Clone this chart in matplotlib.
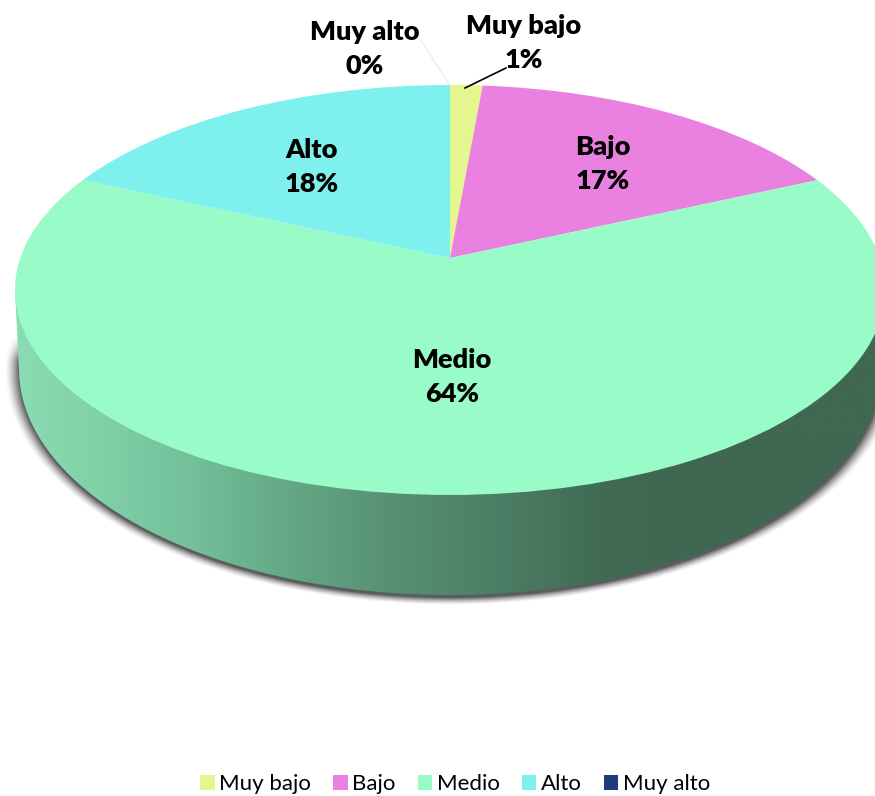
import matplotlib
matplotlib.use("Agg")
import matplotlib.pyplot as plt
import matplotlib.transforms as mtransforms
from matplotlib.colors import LinearSegmentedColormap
from matplotlib.patches import Polygon
import numpy as np

categories = ["Muy bajo", "Bajo", "Medio", "Alto", "Muy alto"]
values = [1.4, 16.8, 63.6, 18.2, 0.0]
colors = ["#E4F68E", "#EA80E0", "#99FBC8", "#7EF1EF", "#1F3B7A"]
label_x = [524, 603, 452, 312, 365]
label_y = [43, 164, 377, 167, 49]

# pie seen from above, all in pixels of the 875x796 picture
CX, CY = 450, 258
A, B, K = 429.7, 200.0, 0.156
WALL_STOPS = [(15, "#8ADCB2"), (100, "#80D0A8"), (200, "#72BE98"), (300, "#62A582"),
              (400, "#568F74"), (500, "#4C7D65"), (600, "#416B55"), (650, "#3F6751"),
              (885, "#3F6751")]


class TiltTransform(mtransforms.Transform):
    input_dims = 2
    output_dims = 2

    def transform_non_affine(self, xy):
        xy = np.asarray(xy, dtype=float)
        w = 1 + K * xy[:, 1]
        return np.column_stack([CX + A * xy[:, 0] / w, CY - B * xy[:, 1] / w])


def draw_shadow(ax):
    xx, yy = np.meshgrid(np.arange(0, 875.0), np.arange(280, 620.0))
    dist = np.sqrt(((xx - 450) / 437) ** 2 + ((yy - 370) / 230) ** 2)
    edge = (1 - dist) * 300
    alpha = np.clip((edge + 6) / 10, 0, 1) ** 1.5 * np.clip((yy - 335) / 25, 0, 1) * 0.85
    rgba = np.zeros(xx.shape + (4,))
    rgba[..., :3] = 0.25
    rgba[..., 3] = alpha
    ax.imshow(rgba, extent=(0, 875, 620, 280), aspect="auto", zorder=1)


def draw_wall(ax):
    t = np.linspace(np.pi, 0, 200)
    low_x = 450 + 431 * np.cos(t)
    low_y = 369 + 226 * np.sin(t)
    points = np.column_stack([
        np.r_[15, low_x, 885],
        np.r_[290, low_y, 290],
    ])
    clip = Polygon(points, closed=True, transform=ax.transData, facecolor="none", edgecolor="none")
    ax.add_patch(clip)

    span = WALL_STOPS[-1][0] - WALL_STOPS[0][0]
    stops = [((x - WALL_STOPS[0][0]) / span, c) for x, c in WALL_STOPS]
    cmap = LinearSegmentedColormap.from_list("wall", stops)
    gradient = np.linspace(0, 1, 512).reshape(1, -1)
    img = ax.imshow(gradient, cmap=cmap, extent=(15, 885, 600, 280), aspect="auto", zorder=2)
    img.set_clip_path(clip)


def main():
    plt.rcParams["font.family"] = ["Lato", "DejaVu Sans"]
    fig = plt.figure(figsize=(8.75, 7.96), dpi=100)
    ax = fig.add_axes([0, 0, 1, 1])

    wedges, _ = ax.pie(values, colors=colors, startangle=90, counterclock=False,
                       wedgeprops={"linewidth": 0})
    tilt = TiltTransform()
    for wedge in wedges:
        wedge.set_transform(tilt + ax.transData)
        wedge.set_zorder(3)

    draw_shadow(ax)
    draw_wall(ax)

    ax.plot([465, 506], [88, 68], color="black", linewidth=1.2, zorder=4)
    ax.plot([450, 420], [85, 39], color="#EEEEEE", linewidth=1, zorder=4)

    for name, value, x, y in zip(categories, values, label_x, label_y):
        ax.text(x, y, f"{name}\n{round(value)}%", ha="center", va="center",
                fontsize=19.5, fontweight=800, color="black", linespacing=1.47, zorder=5)

    ax.legend(wedges, categories, loc="center", bbox_to_anchor=(455, 784),
              bbox_transform=ax.transData, ncol=5, frameon=False, fontsize=16,
              handlelength=0.65, handleheight=0.65, handletextpad=0.2, columnspacing=1.0,
              borderpad=0, borderaxespad=0)

    ax.set_aspect("auto")
    ax.set_xlim(0, 875)
    ax.set_ylim(796, 0)
    ax.axis("off")

    fig.savefig("out.png", dpi=100)
    plt.close(fig)


if __name__ == "__main__":
    main()
